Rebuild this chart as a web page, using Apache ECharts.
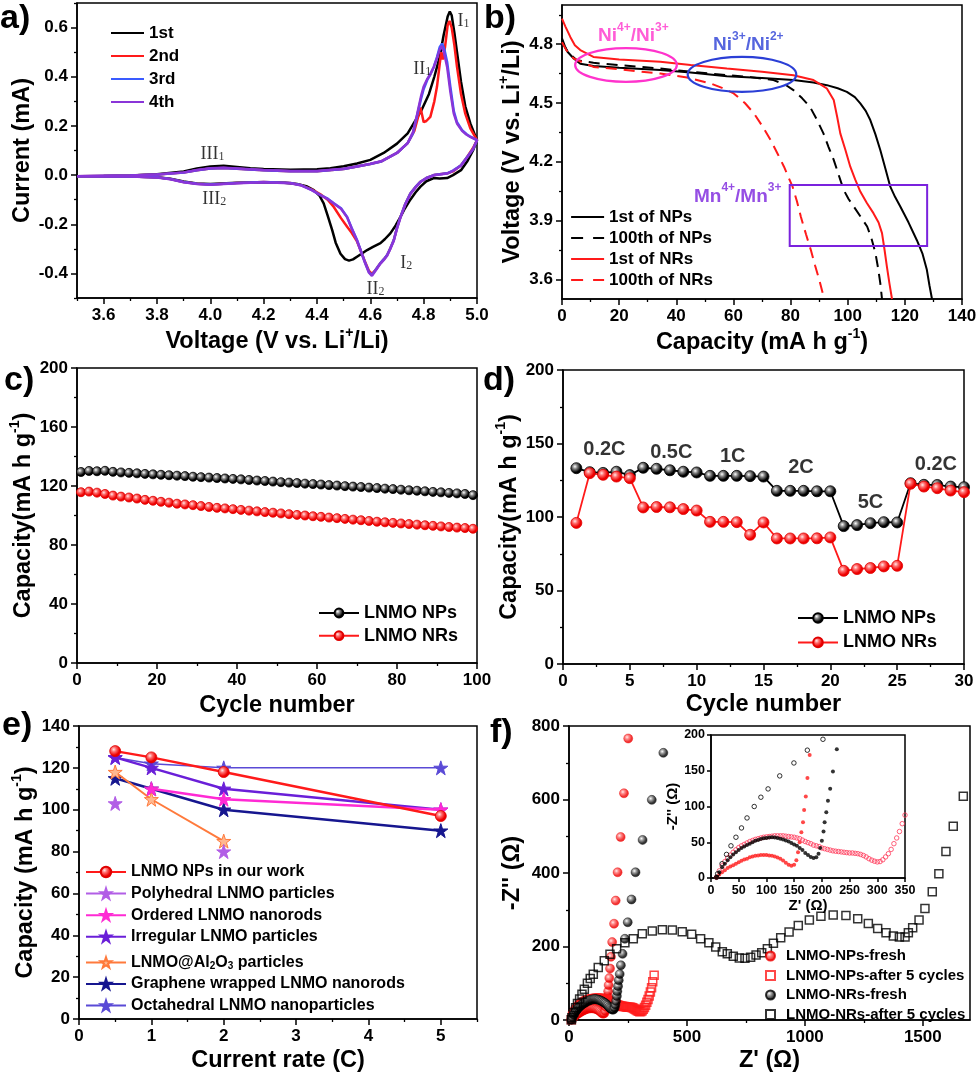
<!DOCTYPE html>
<html><head><meta charset="utf-8">
<script src="https://cdn.jsdelivr.net/npm/echarts/dist/echarts.min.js"></script>
<style>html,body{margin:0;padding:0;background:#fff}#c{width:980px;height:1074px}</style>
</head><body><div id="c"></div><script>
// ---------------- DATA ----------------
// Panel a: cyclic voltammetry [V, mA]
const cvTickX = [3.6,3.8,4.0,4.2,4.4,4.6,4.8,5.0];
const cvMinorX = [3.5,3.7,3.9,4.1,4.3,4.5,4.7,4.9];
const cvTickY = [-0.4,-0.2,0,0.2,0.4,0.6];
const cvMinorY = [-0.5,-0.3,-0.1,0.1,0.3,0.5,0.7];
const cvNames = ['1st','2nd','3rd','4th'];
const cv1st = [[3.5,-0.005],[3.6,-0.004],[3.7,-0.002],[3.8,0.003],[3.9,0.015],[3.95,0.027],[4.0,0.035],[4.05,0.038],[4.1,0.033],[4.15,0.028],[4.2,0.025],[4.3,0.022],[4.4,0.024],[4.45,0.028],[4.5,0.036],[4.55,0.047],[4.6,0.062],[4.65,0.09],[4.7,0.128],[4.74,0.17],[4.79,0.26],[4.82,0.33],[4.84,0.40],[4.86,0.48],[4.875,0.57],[4.89,0.645],[4.898,0.665],[4.905,0.65],[4.915,0.58],[4.925,0.50],[4.94,0.38],[4.956,0.28],[4.975,0.21],[5.0,0.142],
 [4.985,0.1],[4.963,0.055],[4.94,0.02],[4.91,0.0],[4.888,-0.012],[4.86,-0.014],[4.838,-0.012],[4.81,-0.025],[4.788,-0.047],[4.77,-0.07],[4.75,-0.10],[4.73,-0.135],[4.713,-0.17],[4.695,-0.205],[4.675,-0.237],[4.655,-0.26],[4.638,-0.277],[4.61,-0.292],[4.588,-0.305],[4.57,-0.318],[4.55,-0.332],[4.535,-0.343],[4.52,-0.348],[4.505,-0.342],[4.488,-0.32],[4.47,-0.275],[4.457,-0.224],[4.44,-0.165],[4.425,-0.115],[4.41,-0.085],[4.388,-0.061],[4.36,-0.045],[4.325,-0.036],[4.28,-0.031],[4.2,-0.029],[4.1,-0.031],[4.0,-0.036],[3.95,-0.034],[3.9,-0.026],[3.85,-0.015],[3.8,-0.009],[3.7,-0.006],[3.5,-0.005]];
const cv2nd = [[3.5,-0.005],[3.7,-0.002],[3.8,0.002],[3.9,0.01],[3.95,0.02],[4.0,0.027],[4.05,0.029],[4.1,0.026],[4.2,0.02],[4.3,0.016],[4.4,0.016],[4.5,0.025],[4.55,0.035],[4.6,0.045],[4.64,0.055],[4.7,0.09],[4.74,0.13],[4.765,0.18],[4.78,0.24],[4.788,0.275],[4.795,0.24],[4.8,0.215],[4.81,0.22],[4.825,0.237],[4.84,0.30],[4.85,0.36],[4.86,0.45],[4.866,0.50],[4.872,0.47],[4.88,0.52],[4.89,0.61],[4.897,0.627],[4.905,0.60],[4.915,0.53],[4.925,0.44],[4.94,0.33],[4.956,0.25],[4.975,0.19],[5.0,0.142],
 [4.985,0.11],[4.963,0.074],[4.94,0.04],[4.91,0.015],[4.888,0.007],[4.86,0.003],[4.838,0.0],[4.81,-0.012],[4.788,-0.027],[4.77,-0.048],[4.75,-0.075],[4.73,-0.12],[4.713,-0.17],[4.7,-0.215],[4.688,-0.264],[4.675,-0.298],[4.663,-0.325],[4.65,-0.343],[4.638,-0.358],[4.62,-0.385],[4.606,-0.402],[4.595,-0.39],[4.581,-0.355],[4.565,-0.31],[4.55,-0.27],[4.53,-0.235],[4.513,-0.21],[4.49,-0.175],[4.463,-0.13],[4.44,-0.1],[4.413,-0.078],[4.38,-0.058],[4.338,-0.04],[4.3,-0.032],[4.2,-0.028],[4.1,-0.032],[4.0,-0.038],[3.95,-0.035],[3.9,-0.028],[3.85,-0.016],[3.8,-0.009],[3.7,-0.006],[3.5,-0.005]];
const cv3rd = [[3.5,-0.005],[3.7,-0.002],[3.8,0.002],[3.9,0.01],[3.95,0.02],[4.0,0.027],[4.05,0.029],[4.1,0.026],[4.2,0.02],[4.3,0.016],[4.4,0.016],[4.5,0.025],[4.55,0.035],[4.6,0.045],[4.64,0.055],[4.7,0.09],[4.74,0.13],[4.76,0.17],[4.775,0.24],[4.79,0.31],[4.8,0.35],[4.813,0.386],[4.825,0.41],[4.838,0.44],[4.85,0.48],[4.86,0.52],[4.869,0.535],[4.878,0.51],[4.888,0.46],[4.9,0.36],[4.913,0.26],[4.925,0.215],[4.944,0.183],[4.96,0.167],[4.975,0.156],[5.0,0.142],
 [4.985,0.105],[4.963,0.074],[4.94,0.04],[4.91,0.018],[4.888,0.007],[4.86,0.003],[4.838,0.0],[4.81,-0.012],[4.788,-0.027],[4.77,-0.048],[4.75,-0.075],[4.73,-0.12],[4.713,-0.17],[4.7,-0.215],[4.688,-0.264],[4.675,-0.298],[4.663,-0.325],[4.65,-0.343],[4.638,-0.358],[4.62,-0.385],[4.606,-0.407],[4.595,-0.395],[4.581,-0.358],[4.565,-0.31],[4.55,-0.264],[4.53,-0.215],[4.513,-0.17],[4.49,-0.135],[4.463,-0.115],[4.44,-0.096],[4.413,-0.081],[4.38,-0.06],[4.338,-0.04],[4.3,-0.032],[4.2,-0.028],[4.1,-0.032],[4.0,-0.038],[3.95,-0.035],[3.9,-0.028],[3.85,-0.016],[3.8,-0.009],[3.7,-0.006],[3.5,-0.005]];
const cv4th = [[3.5,-0.005],[3.7,-0.002],[3.8,0.002],[3.9,0.011],[3.95,0.021],[4.0,0.028],[4.05,0.03],[4.1,0.027],[4.2,0.021],[4.3,0.017],[4.4,0.017],[4.5,0.026],[4.55,0.035],[4.6,0.046],[4.64,0.056],[4.7,0.09],[4.74,0.13],[4.76,0.175],[4.775,0.245],[4.79,0.32],[4.8,0.36],[4.813,0.39],[4.825,0.41],[4.838,0.44],[4.85,0.475],[4.86,0.51],[4.867,0.525],[4.876,0.5],[4.888,0.44],[4.9,0.34],[4.913,0.25],[4.925,0.21],[4.944,0.18],[4.96,0.165],[4.975,0.155],[5.0,0.142],
 [4.985,0.105],[4.963,0.072],[4.94,0.038],[4.91,0.017],[4.888,0.006],[4.86,0.002],[4.838,-0.001],[4.81,-0.013],[4.788,-0.028],[4.77,-0.05],[4.75,-0.078],[4.73,-0.123],[4.713,-0.173],[4.7,-0.218],[4.688,-0.267],[4.675,-0.3],[4.663,-0.328],[4.65,-0.346],[4.638,-0.36],[4.62,-0.388],[4.606,-0.41],[4.595,-0.397],[4.581,-0.36],[4.565,-0.312],[4.55,-0.266],[4.53,-0.217],[4.513,-0.172],[4.49,-0.137],[4.463,-0.116],[4.44,-0.097],[4.413,-0.082],[4.38,-0.061],[4.338,-0.041],[4.3,-0.033],[4.2,-0.029],[4.1,-0.033],[4.0,-0.039],[3.95,-0.036],[3.9,-0.029],[3.85,-0.017],[3.8,-0.01],[3.7,-0.006],[3.5,-0.005]];
const cvPeaks = [['I','1',4.949,0.63],['II','1',4.795,0.435],['III','1',4.008,0.089],['III','2',4.015,-0.093],['I','2',4.735,-0.354],['II','2',4.619,-0.459]];

// Panel b: charge profiles [capacity, V]
const chTickX = [0,20,40,60,80,100,120,140];
const chMinorX = [10,30,50,70,90,110,130];
const chTickY = [3.6,3.9,4.2,4.5,4.8];
const chMinorY = [3.75,4.05,4.35,4.65,4.95];
const chNames = ['1st of NPs','100th of NPs','1st of NRs','100th of NRs'];
const ch1stNPs = [[0,4.83],[1,4.79],[2,4.76],[4.1,4.727],[6.4,4.70],[11,4.689],[20,4.68],[34.4,4.668],[45,4.655],[57.7,4.637],[70,4.628],[81,4.617],[88,4.605],[92.7,4.591],[96.5,4.575],[99.7,4.557],[102.5,4.53],[104.4,4.498],[106.3,4.46],[107.9,4.413],[109.7,4.34],[111.4,4.26],[113.2,4.165],[114.9,4.073],[116.6,4.02],[118.4,3.972],[121.3,3.89],[124.2,3.80],[126.2,3.73],[127.7,3.649],[128.6,3.57],[129.5,3.5]];
const ch100NPs = [[0,4.812],[2,4.76],[5.2,4.718],[11,4.705],[20,4.693],[34.4,4.676],[45,4.66],[57.7,4.642],[66,4.632],[74,4.617],[78,4.595],[81,4.566],[84,4.525],[86.8,4.48],[89.2,4.415],[91.5,4.345],[93.3,4.275],[95.1,4.21],[96.9,4.13],[98.6,4.056],[100.3,4.01],[102.1,3.972],[104.5,3.92],[106.8,3.87],[108.3,3.81],[109.7,3.734],[110.6,3.66],[111.4,3.581],[112,3.5]];
const ch1stNRs = [[0,4.93],[1.2,4.89],[2.9,4.837],[4.5,4.795],[6.4,4.77],[11,4.735],[20,4.722],[34.4,4.71],[45,4.694],[57.7,4.676],[70,4.66],[81,4.642],[88,4.617],[91,4.59],[92.7,4.574],[95.1,4.515],[96.3,4.43],[97.4,4.345],[99.2,4.26],[100.9,4.175],[102.6,4.11],[104.4,4.048],[106.7,3.99],[109,3.938],[110.8,3.89],[112,3.836],[112.9,3.75],[113.7,3.666],[114.6,3.58],[115.5,3.5]];
const ch100NRs = [[0,4.81],[1.5,4.77],[4.1,4.727],[11,4.684],[20,4.672],[34.4,4.65],[43.8,4.63],[52,4.6],[56,4.577],[60.1,4.549],[64,4.5],[67.2,4.447],[70.2,4.38],[73,4.311],[75.5,4.24],[77.7,4.175],[79.3,4.12],[80.7,4.073],[82.2,4.0],[83.6,3.92],[85.4,3.83],[87.1,3.75],[88.6,3.67],[90,3.6],[91.8,3.5]];
// annotation shapes in data units: [cx, cy, rx, ry]
const chEllipses = [[22.4,4.694,17.8,0.086],[63,4.646,19,0.089]];
const chRect = [79.7,3.771,127.8,4.082];
const chLabels = [['Ni','4+','/Ni','3+',25,4.856],['Ni','3+','/Ni','2+',65.2,4.81],['Mn','4+','/Mn','3+',61.5,4.036]];

// Panel c: cycling
const cycTickX = [0,20,40,60,80,100];
const cycMinorX = [10,30,50,70,90];
const cycTickY = [0,40,80,120,160,200];
const cycMinorY = [20,60,100,140,180];
const cycNo = [1,3,5,7,9,11,13,15,17,19,21,23,25,27,29,31,33,35,37,39,41,43,45,47,49,51,53,55,57,59,61,63,65,67,69,71,73,75,77,79,81,83,85,87,89,91,93,95,97,99];
const cycNPs = [129.5,130.2,130.0,130.3,129.6,129.2,128.9,128.6,128.2,127.9,127.6,127.3,127.0,126.7,126.3,126.0,125.7,125.4,125.1,124.8,124.5,124.1,123.7,123.4,123.0,122.6,122.3,122.0,121.6,121.3,121.0,120.6,120.3,119.9,119.6,119.3,118.9,118.6,118.2,117.9,117.5,117.1,116.8,116.4,116.0,115.7,115.3,115.0,114.6,113.8];
const cycNRs = [115.8,116.2,115.5,114.6,113.5,112.8,112.2,111.5,110.6,110.0,109.3,108.7,108.0,107.5,107.0,106.4,105.8,105.2,104.8,104.3,103.8,103.3,102.8,102.3,101.9,101.4,100.9,100.4,100.0,99.5,99.1,98.6,98.2,97.7,97.2,96.8,96.3,95.8,95.4,95.0,94.6,94.2,93.8,93.4,93.0,92.6,92.2,91.8,91.5,91.0];

// Panel d: rate
const rateTickX = [0,5,10,15,20,25,30];
const rateMinorX = [2.5,7.5,12.5,17.5,22.5,27.5];
const rateTickY = [0,50,100,150,200];
const rateMinorY = [25,75,125,175];
const rateNo = [1,2,3,4,5,6,7,8,9,10,11,12,13,14,15,16,17,18,19,20,21,22,23,24,25,26,27,28,29,30];
const rateNPs = [133.2,130.5,130.0,130.8,128.5,133.5,132.8,131.8,130.8,130.3,128.0,128.0,128.0,127.8,127.5,117.8,117.8,117.8,117.5,117.5,93.8,94.5,95.8,96.5,96.3,123.0,121.9,121.8,120.7,120.3];
const rateNRs = [96.0,129.8,128.7,127.5,126.4,106.5,106.8,106.6,105.4,104.4,96.7,96.7,96.5,87.9,96.3,85.4,85.4,85.4,85.5,86.1,63.4,64.6,65.3,66.4,66.8,122.6,120.7,119.6,118.0,116.9];
const rateLabels = ['0.2C','0.5C','1C','2C','5C','0.2C'];
const rateLabelAt = [[3.1,146],[8.1,144],[12.7,141.5],[17.8,134],[23.0,109.8],[27.9,135.4]];

// Panel e: comparison
const cmpTickX = [0,1,2,3,4,5];
const cmpMinorX = [0.5,1.5,2.5,3.5,4.5,5.5];
const cmpTickY = [0,20,40,60,80,100,120,140];
const cmpMinorY = [10,30,50,70,90,110,130];
const cmpNames = ['LNMO NPs in our work','Polyhedral LNMO particles','Ordered LNMO nanorods','Irregular LNMO particles','LNMO@Al2O3 particles','Graphene wrapped LNMO nanorods','Octahedral LNMO nanoparticles'];
const cmpOurs = [[0.5,128],[1,125],[2,118],[5,97]];
const cmpPolyhedral = [[0.5,103],[1,'-'],[2,80]];
const cmpOrdered = [[1,110],[2,105],[5,100]];
const cmpIrregular = [[0.5,125],[1,120],[2,110],[5,100]];
const cmpAl2O3 = [[0.5,118],[1,105],[2,85]];
const cmpGraphene = [[0.5,115],[1,110],[2,100],[5,90]];
const cmpOctahedral = [[0.5,125],[1,122],[2,120],[5,120]];

// Panel f: EIS [Z', -Z'']
const eisTickX = [0,500,1000,1500];
const eisMinorX = [250,750,1250];
const eisTickY = [0,200,400,600,800];
const eisMinorY = [100,300,500,700];
const insTickX = [0,50,100,150,200,250,300,350];
const insTickY = [0,50,100,150,200];
const eisNames = ['LNMO-NPs-fresh','LNMO-NPs-after 5 cycles','LNMO-NRs-fresh','LNMO-NRs-after 5 cycles'];
const eisNPsFresh = [[10,1],[15,5],[20,8],[25,11],[30,14],[35,16],[40,18],[45,20],[50,22],[55,24],[60,26],[65,27],[70,29],[75,30],[80,31],[85,31.5],[90,32],[95,32],[100,32],[105,31.5],[110,31],[115,30],[120,28.5],[125,27],[130,24.5],[135,21.5],[140,18.5],[145,17],[150,18.5],[154,25],[157,36],[160,50],[163,64],[166,78],[168,95],[171,114],[174,140],[178,172],[183,212],[191,262],[198,325],[206,402],[219,498],[233,617],[251,766]];
const eisNPsAfter = [[10,1],[15,10],[20,17],[25,23],[30,28],[35,32],[40,36],[45,39.5],[50,42.5],[55,45],[60,47],[65,49],[70,51],[75,52.5],[80,54],[85,55],[90,56],[95,57],[100,57.5],[105,58],[110,58.5],[115,59],[120,59],[125,59],[130,59],[135,58.5],[140,58],[145,57.5],[150,57],[155,56],[160,55],[165,53],[170,51],[175,49.5],[180,48],[185,46],[190,45],[195,44],[200,42],[205,41],[210,40],[215,39],[220,38],[225,37.5],[230,37],[235,36.5],[240,36],[245,35.5],[250,35],[255,35],[260,34.5],[265,34],[270,33],[275,31.5],[280,29.5],[285,27],[290,25],[295,23.5],[300,22.5],[305,23],[310,25.5],[315,29.5],[320,34],[325,40],[330,48],[335,56],[340,65],[345,76],[350,88],[355,104],[361,122]];
const eisNRsFresh = [[10,1],[15,8],[20,15],[25,20],[30,25],[35,29],[40,33],[45,36],[50,39],[55,42],[60,44],[65,46],[70,48],[75,50],[80,52],[85,53],[90,54.5],[95,55.5],[100,56],[105,56.5],[110,57],[115,56.5],[120,56],[125,55],[130,54],[135,52.5],[140,51],[145,49],[150,47],[155,45],[160,42],[165,39],[170,35],[175,32],[180,29.5],[185,28],[190,29],[194,34],[197,42],[200,52],[203,65],[205,78],[208,92],[211,108],[215,125],[220,149],[227,180],[237,221],[249,266],[265,328],[282,402],[312,490],[351,599],[400,727]];
const eisNRsAfter = [[10,1],[12,6],[20,20],[28,33],[36,45],[45,57],[55,70],[65,84],[78,100],[90,113],[103,124.6],[124,142.8],[149.6,160.9],[173.8,178.8],[202,194],[237,210],[272.6,221],[310.7,234.7],[353,242],[395.5,245.6],[438,244.7],[480,240],[520,233],[558,221.2],[593,210.4],[622,198.6],[650,186],[671,180.6],[696.5,173.3],[722,168.8],[746,168],[770,170.6],[793,176.9],[817,183.3],[841,194],[866.6,208.6],[897.5,224],[933,239.3],[972,257.4],[1019,271.8],[1068,282.6],[1120,285.4],[1174,284.6],[1224,275.5],[1269,262.7],[1308.6,249],[1344,237.6],[1375,228.4],[1400.6,225.7],[1424.6,225.7],[1438.6,237.6],[1457,251.1],[1484,271.8],[1509,303.4],[1540,348.7],[1568,398],[1598,458.7],[1629,527.5],[1671.6,608.8]];

// ---------------- BUILD ----------------
const FONT = '"Liberation Sans", Arial, Helvetica, sans-serif';
const SERIF = '"Liberation Serif", "Times New Roman", serif';
const grids = [], xAxes = [], yAxes = [], series = [], legends = [];
const nameRich = {
  m:{fontFamily:FONT,fontWeight:'bold',fontSize:23.5,lineHeight:28,color:'#000',verticalAlign:'bottom'},
  p:{fontFamily:FONT,fontWeight:'bold',fontSize:14,lineHeight:14,color:'#000',verticalAlign:'top'}
};
function addGrid(r, bg){ grids.push(Object.assign({show:true,borderColor:'#000',borderWidth:1.5,backgroundColor:bg||'transparent'}, r)); return grids.length-1; }
function addAxis(list, g, o, isY){
  const base = {type:'value', gridIndex:g, min:o.min, max:o.max, position:isY?'left':'bottom', splitLine:{show:false}};
  list.push(Object.assign({}, base, {
    axisLine:{show:true,onZero:false,lineStyle:{color:'#000',width:1.5}},
    axisTick:{show:true,length:o.tl||6,customValues:o.ticks,lineStyle:{color:'#000',width:1.5}},
    axisLabel:{show:true,customValues:o.ticks,formatter:o.fmt||(v=>String(v)),fontFamily:FONT,fontWeight:'bold',fontSize:o.fs||17,color:'#000',margin:o.margin||9},
    name:o.name||'', nameLocation:'middle', nameGap:o.gap||30, nameRotate:isY?90:0,
    nameTextStyle:{fontFamily:FONT,fontWeight:'bold',fontSize:o.nfs||23,color:'#000',rich:o.rich||nameRich}
  }));
  const idx = list.length-1;
  if (o.minors) list.push(Object.assign({}, base, {
    axisLine:{show:false,onZero:false},
    axisTick:{show:true,length:o.mtl||3,customValues:o.minors,lineStyle:{color:'#000',width:1.3}},
    axisLabel:{show:false}
  }));
  return idx;
}
const f1 = v => v.toFixed(1);
function ball(hi, mid, edge){ return {type:'radial',x:0.38,y:0.36,r:0.65,colorStops:[{offset:0,color:hi},{offset:0.3,color:mid},{offset:0.75,color:edge},{offset:1,color:edge}]}; }
const blackBall = ball('#ffffff','#888888','#000000');
const redBall = ball('#ffe8e8','#ff7070','#ee0000');
const legendText = (fs)=>({fontFamily:FONT,fontWeight:'bold',fontSize:fs,color:'#000',lineHeight:18});
const STAR = 'path://M50,0 L61.8,35.4 L98.6,35.4 L68.9,57.3 L80.2,92.7 L50,70.8 L19.8,92.7 L31.1,57.3 L1.4,35.4 L38.2,35.4 Z';

// ---- a
const gA = addGrid({left:77,top:3,width:400,height:295});
const xA = addAxis(xAxes,gA,{min:3.5,max:5.0,ticks:cvTickX,minors:cvMinorX,fmt:f1,name:'{m|Voltage (V vs. Li}{p|+}{m|/Li)}',gap:28},false);
const yA = addAxis(yAxes,gA,{min:-0.5,max:0.7,ticks:cvTickY,minors:cvMinorY,fmt:f1,name:'{m|Current (mA)}',gap:38},true);
const cvColors = ['#000000','#ff1a1a','#3a5bff','#8a35d8'];
[cv1st,cv2nd,cv3rd,cv4th].forEach((d,i)=>series.push({type:'line',name:cvNames[i],xAxisIndex:xA,yAxisIndex:yA,data:d,symbol:'none',color:cvColors[i],lineStyle:{width:2.5,color:cvColors[i]},z:3+i}));
series.push({type:'scatter',xAxisIndex:xA,yAxisIndex:yA,silent:true,symbolSize:1,itemStyle:{color:'rgba(0,0,0,0)'},z:10,
  data:cvPeaks.map(p=>({value:[p[2],p[3]],n:p[0],s:p[1]})),
  label:{show:true,position:'inside',formatter:p=>'{r|'+p.data.n+'}{s|'+p.data.s+'}',
    rich:{r:{fontFamily:SERIF,fontSize:18,color:'#000',lineHeight:20,verticalAlign:'bottom'},s:{fontFamily:SERIF,fontSize:12,color:'#000',lineHeight:12,padding:[10,0,0,0],verticalAlign:'bottom'}}}});
legends.push({left:110,top:24,padding:0,orient:'vertical',itemWidth:33,itemHeight:14,itemGap:5,data:cvNames,itemStyle:{opacity:0},textStyle:legendText(17),selectedMode:false});

// ---- b
const gB = addGrid({left:562,top:5,width:400,height:294});
const xB = addAxis(xAxes,gB,{min:0,max:140,ticks:chTickX,minors:chMinorX,name:'{m|Capacity (mA h g}{p|-1}{m|)}',gap:28},false);
const yB = addAxis(yAxes,gB,{min:3.5,max:5.0,ticks:chTickY,minors:chMinorY,fmt:f1,name:'{m|Voltage (V vs. Li}{p|+}{m|/Li)}',gap:37},true);
const chData = [ch1stNPs,ch100NPs,ch1stNRs,ch100NRs];
const chColors = ['#000000','#000000','#ff1a1a','#ff1a1a'];
chData.forEach((d,i)=>series.push({type:'line',name:chNames[i],xAxisIndex:xB,yAxisIndex:yB,data:d,symbol:'none',color:chColors[i],
  lineStyle:{width:2,color:chColors[i],type:(i%2===1)?[11,7]:'solid'},z:3}));
const annColors = ['#ff33cc','#2b3fd6','#7a22dd'];
series.push({type:'custom',xAxisIndex:xB,yAxisIndex:yB,silent:true,z:6,data:chEllipses,
  renderItem:(p,api)=>{const c=api.coord([api.value(0),api.value(1)]);const s=api.size([api.value(2),api.value(3)]);
    return {type:'ellipse',shape:{cx:c[0],cy:c[1],rx:s[0],ry:s[1]},style:{fill:'none',stroke:annColors[p.dataIndex],lineWidth:2.2}};}});
series.push({type:'custom',xAxisIndex:xB,yAxisIndex:yB,silent:true,z:6,data:[chRect],
  renderItem:(p,api)=>{const a=api.coord([api.value(0),api.value(3)]);const b=api.coord([api.value(2),api.value(1)]);
    return {type:'rect',shape:{x:a[0],y:a[1],width:b[0]-a[0],height:b[1]-a[1]},style:{fill:'none',stroke:annColors[2],lineWidth:2}};}});
chLabels.forEach((l,i)=>{
  const c = annColors[i];
  series.push({type:'scatter',xAxisIndex:xB,yAxisIndex:yB,silent:true,symbolSize:1,itemStyle:{color:'rgba(0,0,0,0)'},z:10,data:[[l[4],l[5]]],
    label:{show:true,position:'inside',formatter:'{t|'+l[0]+'}{p|'+l[1]+'}{t|'+l[2]+'}{p|'+l[3]+'}',
      rich:{t:{fontFamily:FONT,fontWeight:'bold',fontSize:19,color:c,lineHeight:24,verticalAlign:'bottom'},p:{fontFamily:FONT,fontWeight:'bold',fontSize:12,color:c,lineHeight:12,verticalAlign:'top'}}}});
});
legends.push({left:570,top:208,padding:0,orient:'vertical',itemWidth:33,itemHeight:14,itemGap:3,itemStyle:{opacity:0},selectedMode:false,textStyle:legendText(17),
  data:chNames.map((n,i)=>(i%2===1)?{name:n,lineStyle:{type:[12,10],width:2.2}}:{name:n,lineStyle:{width:2.2}})});

// ---- c
const gC = addGrid({left:77,top:368,width:400,height:295});
const xC = addAxis(xAxes,gC,{min:0,max:100,ticks:cycTickX,minors:cycMinorX,name:'{m|Cycle number}',gap:27},false);
const yC = addAxis(yAxes,gC,{min:0,max:200,ticks:cycTickY,minors:cycMinorY,name:'{m|Capacity(mA h g}{p|-1}{m|)}',gap:40},true);
series.push({type:'line',name:'LNMO NPs',xAxisIndex:xC,yAxisIndex:yC,data:cycNo.map((c,i)=>[c,cycNPs[i]]),symbol:'circle',symbolSize:9,showSymbol:true,
  color:'#000',lineStyle:{width:1.5,color:'#000'},itemStyle:{color:blackBall,borderColor:'#000',borderWidth:0.8}});
series.push({type:'line',name:'LNMO NRs',xAxisIndex:xC,yAxisIndex:yC,data:cycNo.map((c,i)=>[c,cycNRs[i]]),symbol:'circle',symbolSize:9,showSymbol:true,
  color:'#ff1a1a',lineStyle:{width:1.5,color:'#ff1a1a'},itemStyle:{color:redBall,borderColor:'#e00000',borderWidth:0.8}});
legends.push({left:318,top:604,padding:0,orient:'vertical',itemWidth:40,itemHeight:11,itemGap:4.7,data:['LNMO NPs','LNMO NRs'],textStyle:legendText(18),selectedMode:false});

// ---- d
const gD = addGrid({left:563,top:370,width:401,height:294});
const xD = addAxis(xAxes,gD,{min:0,max:30,ticks:rateTickX,minors:rateMinorX,name:'{m|Cycle number}',gap:25},false);
const yD = addAxis(yAxes,gD,{min:0,max:200,ticks:rateTickY,minors:rateMinorY,name:'{m|Capacity(mA h g}{p|-1}{m|)}',gap:40},true);
series.push({type:'line',name:'LNMO NPs ',xAxisIndex:xD,yAxisIndex:yD,data:rateNo.map((c,i)=>[c,rateNPs[i]]),symbol:'circle',symbolSize:11,showSymbol:true,
  color:'#000',lineStyle:{width:1.8,color:'#000'},itemStyle:{color:blackBall,borderColor:'#000',borderWidth:0.8}});
series.push({type:'line',name:'LNMO NRs ',xAxisIndex:xD,yAxisIndex:yD,data:rateNo.map((c,i)=>[c,rateNRs[i]]),symbol:'circle',symbolSize:11,showSymbol:true,
  color:'#ff1a1a',lineStyle:{width:1.8,color:'#ff1a1a'},itemStyle:{color:redBall,borderColor:'#e00000',borderWidth:0.8}});
series.push({type:'scatter',xAxisIndex:xD,yAxisIndex:yD,silent:true,symbolSize:1,itemStyle:{color:'rgba(0,0,0,0)'},z:10,
  data:rateLabelAt.map((p,i)=>({value:p,t:rateLabels[i]})),
  label:{show:true,position:'inside',formatter:p=>p.data.t,fontFamily:FONT,fontWeight:'bold',fontSize:20,color:'#000'}});
legends.push({left:797,top:609,padding:0,orient:'vertical',itemWidth:40,itemHeight:12,itemGap:6.4,data:['LNMO NPs ','LNMO NRs '],textStyle:legendText(18),selectedMode:false});

// ---- e
const gE = addGrid({left:79,top:726,width:398,height:293});
const xE = addAxis(xAxes,gE,{min:0,max:5.5,ticks:cmpTickX,minors:cmpMinorX,name:'{m|Current rate (C)}',gap:26},false);
const yE = addAxis(yAxes,gE,{min:0,max:140,ticks:cmpTickY,minors:cmpMinorY,name:'{m|Capacity (mA h g}{p|-1}{m|)}',gap:40},true);
const cmpData = [cmpOurs,cmpPolyhedral,cmpOrdered,cmpIrregular,cmpAl2O3,cmpGraphene,cmpOctahedral];
const cmpColors = ['#ff1a1a','#b25ee6','#ff2ad4','#6a1fd8','#ff7a3c','#16168f','#5a4ad6'];
const cmpLW = [2.5,1.5,2.5,2.5,2,2.5,1.5];
cmpData.forEach((d,i)=>{
  const isOurs = i===0;
  series.push({type:'line',name:cmpNames[i],xAxisIndex:xE,yAxisIndex:yE,data:d,connectNulls:false,
    symbol:isOurs?'circle':STAR,symbolSize:isOurs?11:14,showSymbol:true,color:cmpColors[i],z:3+(7-i),
    lineStyle:{width:cmpLW[i],color:cmpColors[i]},
    itemStyle:isOurs?{color:redBall,borderColor:'#e00000',borderWidth:0.8}:{color:(i===4?'#ffb890':cmpColors[i]),borderColor:cmpColors[i],borderWidth:1}});
});
legends.push({left:85,top:863,padding:0,orient:'vertical',itemWidth:40,itemHeight:13,itemGap:3.6,data:cmpNames,selectedMode:false,
  formatter:n=> n==='LNMO@Al2O3 particles' ? '{n|LNMO@Al}{b|2}{n|O}{b|3}{n| particles}' : n,
  textStyle:Object.assign(legendText(16),{rich:{n:{fontFamily:FONT,fontWeight:'bold',fontSize:16,color:'#000',lineHeight:18,verticalAlign:'middle'},b:{fontFamily:FONT,fontWeight:'bold',fontSize:10,color:'#000',lineHeight:10,padding:[12,0,0,0],verticalAlign:'bottom'}}})});

// ---- f
const gF = addGrid({left:569,top:726,width:401,height:295});
const xF = addAxis(xAxes,gF,{min:0,max:1700,ticks:eisTickX,minors:eisMinorX,name:"{m|Z' (Ω)}",gap:25},false);
const yF = addAxis(yAxes,gF,{min:0,max:800,ticks:eisTickY,minors:eisMinorY,name:"{m|-Z'' (Ω)}",gap:44},true);
const eisData = [eisNPsFresh,eisNPsAfter,eisNRsFresh,eisNRsAfter];
const eisStyle = [
  {symbol:'circle',size:9,item:{color:redBall,borderColor:'#ee0000',borderWidth:0.5},c:'#ff1a1a'},
  {symbol:'rect',size:8,item:{color:'rgba(255,255,255,0)',borderColor:'#ff1a1a',borderWidth:1.5},c:'#ff1a1a'},
  {symbol:'circle',size:9,item:{color:blackBall,borderColor:'#000',borderWidth:0.5},c:'#000'},
  {symbol:'rect',size:8,item:{color:'rgba(255,255,255,0)',borderColor:'#000',borderWidth:1.5},c:'#000'}
];
eisData.forEach((d,i)=>series.push({type:'scatter',name:eisNames[i],xAxisIndex:xF,yAxisIndex:yF,data:d,symbol:eisStyle[i].symbol,symbolSize:eisStyle[i].size,color:eisStyle[i].c,itemStyle:eisStyle[i].item,z:3}));
legends.push({left:765,top:947,padding:0,orient:'vertical',itemWidth:9,itemHeight:9,itemGap:1.5,data:eisNames,
  textStyle:Object.assign(legendText(15),{padding:[0,0,0,6]}),selectedMode:false});

// inset
const insRich = {m:{fontFamily:FONT,fontWeight:'bold',fontSize:15,lineHeight:18,color:'#000'}};
const gI = addGrid({left:711,top:735,width:194,height:143},'#fff');
const xI = addAxis(xAxes,gI,{min:0,max:350,ticks:insTickX,fs:12.5,nfs:15,tl:4,margin:6,name:"{m|Z' (Ω)}",gap:19,rich:insRich},false);
const yI = addAxis(yAxes,gI,{min:0,max:200,ticks:insTickY,fs:12.5,nfs:15,tl:4,margin:6,name:"{m|-Z'' (Ω)}",gap:27,rich:insRich},true);
const insStyle = [
  {symbol:'circle',size:4,item:{color:'#ff1a1a'}},
  {symbol:'circle',size:4.5,item:{color:'rgba(255,255,255,0)',borderColor:'#ff3a5a',borderWidth:1}},
  {symbol:'circle',size:4,item:{color:'#000'}},
  {symbol:'circle',size:4.5,item:{color:'rgba(255,255,255,0)',borderColor:'#000',borderWidth:1}}
];
eisData.forEach((d,i)=>series.push({type:'scatter',name:'inset-'+i,xAxisIndex:xI,yAxisIndex:yI,data:d,symbol:insStyle[i].symbol,symbolSize:insStyle[i].size,itemStyle:insStyle[i].item,z:4}));

const panelLetters = ['a)','b)','c)','d)','e)','f)'];
const letterPos = [[0,2],[484,2],[4,364],[483,364],[2,709],[490,716]];
const graphic = panelLetters.map((t,i)=>({type:'text',left:letterPos[i][0],top:letterPos[i][1],z:100,
  style:{text:t,fill:'#000',font:'bold 34px '+FONT}}));

const chart = echarts.init(document.getElementById('c'), null, {renderer:'canvas'});
chart.setOption({
  animation:false, backgroundColor:'#fff',
  textStyle:{fontFamily:FONT},
  grid:grids, xAxis:xAxes, yAxis:yAxes, series:series, legend:legends, graphic:graphic
});
</script></body></html>
